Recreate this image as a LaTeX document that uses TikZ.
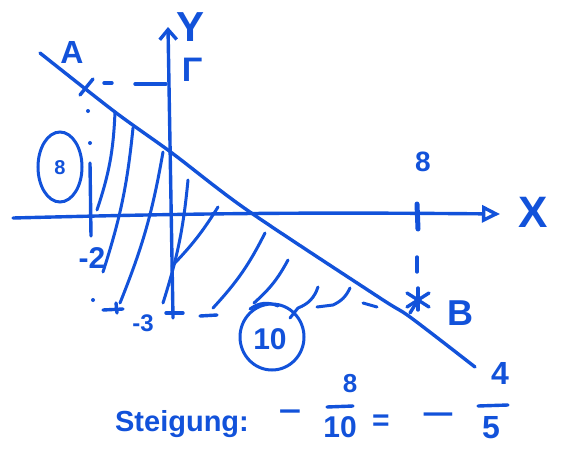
\documentclass[tikz,border=0pt]{standalone}
\usepackage{fontspec}
\setmainfont{Liberation Sans}
\usetikzlibrary{arrows.meta,shapes.geometric}
\definecolor{pen}{RGB}{18,82,218}
\newcommand{\fs}[1]{\fontsize{#1}{#1}\selectfont\bfseries}
\begin{document}
\begin{tikzpicture}[x=1pt,y=-1pt,
  penline/.style={draw=pen,line width=3.4pt,line cap=round,line join=round},
  hatch/.style={draw=pen,line width=3pt,line cap=round,line join=round},
  lbl/.style={text=pen,inner sep=0pt},
  ring/.style={draw=pen,line width=3pt,ellipse,inner sep=0pt}]
\useasboundingbox (0,0) rectangle (562,452);

% axes
\coordinate (yb) at (173,318);
\coordinate (yt) at (168,27);
\coordinate (xl) at (13,218);
\coordinate (xr) at (500,214);
\draw[penline,-{Straight Barb[length=10pt,width=17pt]}] (yb) -- (yt);
\draw[penline,-{Triangle[open,length=18pt,width=17pt]}] (xl) to[bend left=1] (xr);

% main line
\draw[penline] plot[smooth,tension=0.5] coordinates {(40,53) (115,112) (172,153) (247,210) (380,298) (410,317) (475,367)};

% labels
\node[lbl,font=\fs{32}] (A) at (72,52) {A};
\node[lbl,font=\fs{42}] (Y) at (191,27) {Y};
\node[lbl,font=\fs{34}] (G) at (192,70) {Γ};
\node[lbl,font=\fs{44}] (X) at (533,212) {X};
\node[lbl,font=\fs{28}] (e8) at (423,162) {8};
\node[lbl,font=\fs{36}] (B) at (460,313) {B};
\node[ring,minimum width=44pt,minimum height=70pt] (c8) at (60,167) {};
\node[lbl,font=\fs{20}] (c8t) at (60,168) {8};
\node[lbl,font=\fs{30}] (m2) at (92,258) {-2};
\node[lbl,font=\fs{24}] (m3) at (143,323) {-3};
\node[ring,minimum width=64pt,minimum height=66pt] (c10) at (272,337) {};
\node[lbl,font=\fs{30}] (c10t) at (270,339) {10};

% point A cross and dashed to Y axis
\coordinate (Ax) at (86,87);
\draw[penline] (80,95) -- (93,79);
\draw[penline] (104,83) -- (112,83);
\draw[penline] (135,84) -- (166,84);

% left dashed vertical
\fill[pen] (88,111) circle (2pt);
\fill[pen] (90,143) circle (2pt);
\draw[penline] (90,163) -- (91,236);
\fill[pen] (93,300) circle (2pt);

% bottom dashes
\draw[penline] (103,310) -- (123,309);
\draw[penline] (116,303) -- (117,313);
\draw[penline] (166,313) -- (183,313);
\draw[penline] (200,316) -- (217,315);

% tick at 8 and dashed down to B
\draw[draw=pen,line width=5pt,line cap=round] (417,204) -- (418,229);
\draw[penline] (417,257) -- (417,272);
\coordinate (Bs) at (418,300);
\draw[penline] (418,288) -- (418,310);
\draw[penline] (407,293) -- (429,307);
\draw[penline] (407,307) -- (429,293);
\draw[penline] (418,300) -- (410,313);

% hatching
\draw[hatch] (115,112) to[bend left=8] (97,210);
\draw[hatch] (133,128) to[bend left=6] (103,272);
\draw[hatch] (163,152) to[bend left=6] (120,303);
\draw[hatch] (188,180) to[bend left=6] (163,303);
\draw[hatch] (218,207) to[bend left=6] (172,266);
\draw[hatch] (265,233) to[bend left=8] (213,308);
\draw[hatch] (288,260) to[bend left=10] (254,303);
\draw[hatch] (250,309) to[bend left=30] (278,306);
\draw[hatch] (318,287) to[bend left=25] (298,308);
\draw[hatch] (298,308) -- (290,318);
\draw[hatch] (350,288) to[bend left=20] (333,305) -- (317,307);
\draw[hatch] (363,303) -- (377,307);

% slope text
\node[lbl,font=\fs{29}] (st) at (182,424) {Steigung:};
\node[lbl,font=\fs{30},xscale=1.3] (mi1) at (290,416) {−};
\node[lbl,font=\fs{26}] (n8) at (350,384) {8};
\draw[penline] (327,407) -- (353,406);
\node[lbl,font=\fs{30}] (d10) at (340,427) {10};
\node[lbl,font=\fs{30}] (eq) at (381,423) {=};
\node[lbl,font=\fs{30},xscale=1.9] (mi2) at (438,419) {−};
\node[lbl,font=\fs{32}] (n4) at (500,373) {4};
\draw[penline] (478,406) -- (508,405);
\node[lbl,font=\fs{32}] (d5) at (491,428) {5};
\end{tikzpicture}
\end{document}
